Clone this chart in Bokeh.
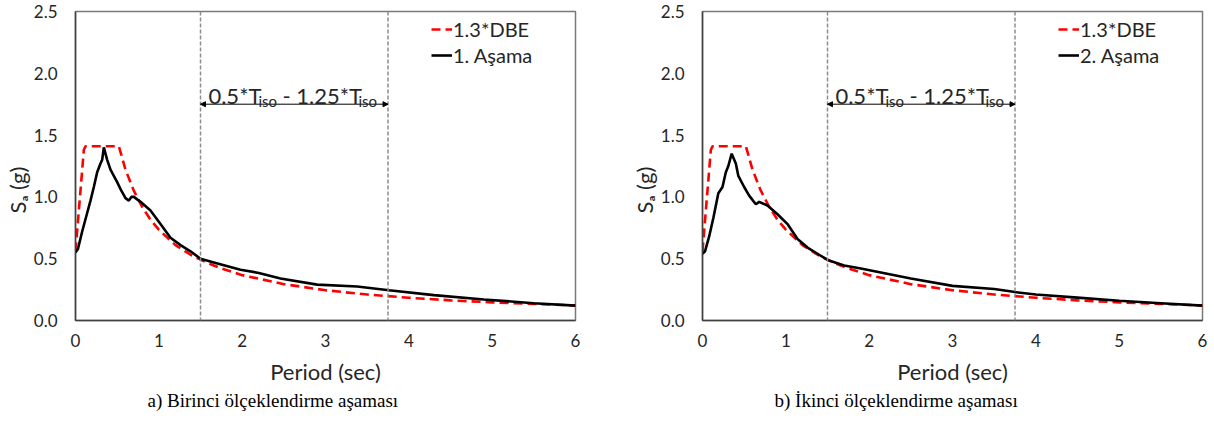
from bokeh.plotting import figure
from bokeh.models import (Range1d, FixedTicker, Label, Span, Arrow, NormalHead,
                          Legend, LegendItem, Title, NumeralTickFormatter)
from bokeh.layouts import row
from bokeh.embed import file_html
from bokeh.resources import INLINE

# ---------------- data ----------------
dbe_T = [0, 0.1, 0.12, 0.5, 0.52, 0.55, 0.6, 0.7, 0.8, 0.9, 1.0, 1.2, 1.4, 1.6,
         1.8, 2.0, 2.5, 3.0, 3.5, 4.0, 4.5, 5.0, 5.5, 6.0]
dbe_Sa = [0.56, 1.38, 1.41, 1.41, 1.41, 1.34, 1.22, 1.05, 0.92, 0.815, 0.735,
          0.61, 0.525, 0.46, 0.41, 0.367, 0.294, 0.245, 0.21, 0.184, 0.163,
          0.147, 0.134, 0.122]

s1_T = [0, 0.03, 0.08, 0.14, 0.18, 0.22, 0.26, 0.30, 0.32, 0.34, 0.38, 0.42,
        0.46, 0.50, 0.55, 0.60, 0.64, 0.67, 0.70, 0.78, 0.90, 1.02, 1.14, 1.26,
        1.38, 1.5, 1.66, 1.98, 2.2, 2.46, 2.9, 3.38, 3.76, 4.3, 4.9, 5.5, 6.0]
s1_Sa = [0.55, 0.58, 0.72, 0.87, 0.97, 1.08, 1.20, 1.27, 1.30, 1.40, 1.30, 1.22,
         1.17, 1.12, 1.05, 0.99, 0.97, 1.0, 1.0, 0.96, 0.89, 0.78, 0.67, 0.61,
         0.56, 0.50, 0.47, 0.41, 0.385, 0.34, 0.29, 0.275, 0.245, 0.205, 0.17,
         0.14, 0.12]

s2_T = [0, 0.03, 0.08, 0.13, 0.19, 0.24, 0.28, 0.31, 0.35, 0.40, 0.43, 0.50,
        0.56, 0.64, 0.68, 0.78, 0.90, 1.02, 1.14, 1.26, 1.38, 1.5, 1.7, 1.9,
        2.2, 2.5, 3.0, 3.5, 3.75, 4.0, 4.5, 5.0, 5.5, 6.0]
s2_Sa = [0.54, 0.56, 0.68, 0.83, 1.03, 1.08, 1.20, 1.25, 1.35, 1.27, 1.17, 1.08,
         1.01, 0.94, 0.96, 0.93, 0.86, 0.78, 0.66, 0.59, 0.54, 0.49, 0.445, 0.42,
         0.38, 0.34, 0.28, 0.255, 0.23, 0.21, 0.185, 0.16, 0.14, 0.12]

x_ticks = [0, 1, 2, 3, 4, 5, 6]
y_ticks = [0.0, 0.5, 1.0, 1.5, 2.0, 2.5]
t_lo, t_hi = 1.5, 3.75  # 0.5*Tiso, 1.25*Tiso

SANS = "Lato"
SERIF = "Liberation Serif"
TXT = "#262626"


def make_chart(bT, bSa, blabel, caption, min_border_right):
    p = figure(frame_width=500, frame_height=309, output_backend="svg",
               toolbar_location=None, min_border_left=75,
               min_border_right=min_border_right, min_border_top=11,
               min_border_bottom=95,
               x_range=Range1d(0, 6), y_range=Range1d(0, 2.5))
    p.background_fill_color = "white"
    p.border_fill_color = "white"
    p.outline_line_color = "#7a7a7a"
    p.outline_line_width = 1.5
    p.xgrid.visible = False
    p.ygrid.visible = False

    for ax in (p.xaxis[0], p.yaxis[0]):
        ax.major_tick_line_color = None
        ax.minor_tick_line_color = None
        ax.axis_line_color = "#404040"
        ax.axis_line_width = 1.5
        ax.major_label_text_font = SANS
        ax.major_label_text_font_size = "17px"
        ax.major_label_text_color = TXT
        ax.axis_label_text_font_style = "normal"
        ax.axis_label_text_color = TXT
        ax.axis_label_text_font_size = "22px"
    p.xaxis.ticker = FixedTicker(ticks=x_ticks)
    p.yaxis.ticker = FixedTicker(ticks=y_ticks)
    p.yaxis.formatter = NumeralTickFormatter(format="0.0")
    p.xaxis.major_label_standoff = 7
    p.yaxis.major_label_standoff = 12
    p.xaxis.axis_label = "Period (sec)"
    p.xaxis.axis_label_text_font = SANS
    p.xaxis.axis_label_standoff = 8

    # y-axis title (S_a (g)), placed as a left-side title
    p.add_layout(Title(text="Sₐ (g)", align="left", offset=107, standoff=0,
                       text_font="Lato, 'DejaVu Sans'", text_font_size="22px",
                       text_font_style="normal", text_color=TXT), "left")

    # vertical dashed limits
    for t in (t_lo, t_hi):
        p.add_layout(Span(location=t, dimension="height", line_color="#8c8c8c",
                          line_width=1.5, line_dash="4 2"))
    p.add_layout(Arrow(x_start=t_lo, x_end=t_hi, y_start=1.75, y_end=1.75,
                       line_color="black", line_width=1,
                       start=NormalHead(size=5, fill_color="black", line_color="black"),
                       end=NormalHead(size=5, fill_color="black", line_color="black")))
    pieces = [("0.5*T", 0, 0, "22px"), ("iso", 50, -5, "15px"),
              (" - 1.25*T", 74, 0, "22px"), ("iso", 150, -5, "15px")]
    for txt, xo, yo, fs in pieces:
        p.add_layout(Label(x=1.595, y=1.82, x_offset=xo, y_offset=yo, text=txt,
                           text_font=SANS, text_font_size=fs, text_color=TXT,
                           text_baseline="alphabetic", text_align="left"))

    r_dbe = p.line(dbe_T, dbe_Sa, line_color="#FF0000", line_width=2.6,
                   line_dash="9 5")
    r_b = p.line(bT, bSa, line_color="black", line_width=2.6)

    legend = Legend(items=[LegendItem(label="1.3*DBE", renderers=[r_dbe]),
                           LegendItem(label=blabel, renderers=[r_b])],
                    location=(356, 253), padding=0, margin=0, spacing=2,
                    glyph_width=21, glyph_height=20, label_standoff=1,
                    label_height=20, label_text_font=SANS,
                    label_text_font_size="20px", label_text_color=TXT,
                    background_fill_alpha=0, border_line_color=None)
    p.add_layout(legend)

    p.add_layout(Title(text=caption, align="left", offset=72, standoff=0,
                       text_font=SERIF, text_font_size="19px",
                       text_font_style="normal", text_color="black"), "below")
    return p


p1 = make_chart(s1_T, s1_Sa, "1. Aşama", "a) Birinci ölçeklendirme aşaması", 52)
p2 = make_chart(s2_T, s2_Sa, "2. Aşama", "b) İkinci ölçeklendirme aşaması", 8)

layout = row(p1, p2)
open("out.html", "w").write(file_html(layout, INLINE))
